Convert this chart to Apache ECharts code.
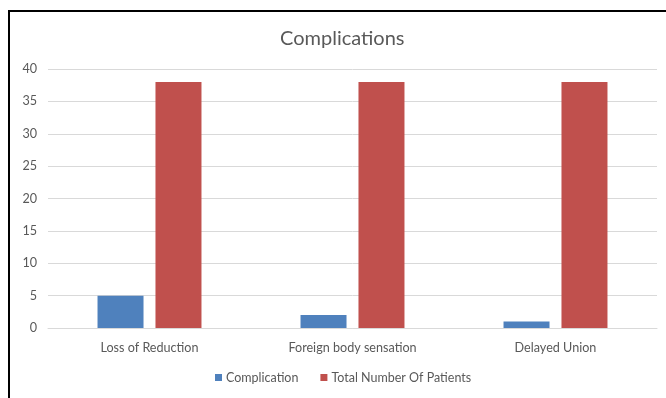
<!DOCTYPE html>
<html>
<head>
<meta charset="utf-8">
<script src="https://cdn.jsdelivr.net/npm/echarts@6/dist/echarts.min.js"></script>
<style>
  html, body { margin: 0; padding: 0; background: #fff; }
  #frame { position: absolute; left: 8px; top: 10px; width: 658px; height: 388px;
           border-left: 2px solid #000; border-top: 2px solid #000; box-sizing: border-box; }
  #chart { position: absolute; left: 0; top: 0; width: 666px; height: 398px; }
</style>
</head>
<body>
<div id="frame"></div>
<div id="chart"></div>
<script>
// Complications by type, against the total number of patients
const categories = ['Loss of Reduction', 'Foreign body sensation', 'Delayed Union'];
const complication = [5, 2, 1];
const totalPatients = [38, 38, 38];
const seriesNames = ['Complication', 'Total Number Of Patients'];

const textColor = '#595959';
const font = 'Lato, "Open Sans", sans-serif';

const chart = echarts.init(document.getElementById('chart'), null, { renderer: 'canvas' });
chart.setOption({
  backgroundColor: 'transparent',
  animation: false,
  title: {
    text: 'Complications',
    left: 280,
    top: 29,
    padding: 0,
    textStyle: { fontFamily: font, fontSize: 20, fontWeight: 'normal', color: textColor }
  },
  legend: {
    bottom: 14,
    left: 215,
    padding: 0,
    itemWidth: 7,
    itemHeight: 7,
    itemGap: 22,
    icon: 'rect',
    textStyle: { fontFamily: font, fontSize: 12.5, color: textColor, padding: [0, 0, 0, -1] },
    data: seriesNames
  },
  grid: { left: 48, right: 9, top: 69, bottom: 70, containLabel: false },
  xAxis: {
    type: 'category',
    data: categories,
    axisLine: { show: true, lineStyle: { color: '#d9d9d9', width: 1 } },
    axisTick: { show: false },
    axisLabel: { fontFamily: font, fontSize: 12.6, color: textColor, margin: 13 }
  },
  yAxis: {
    type: 'value',
    min: 0,
    max: 40,
    interval: 5,
    axisLine: { show: false },
    axisTick: { show: false },
    axisLabel: { fontFamily: font, fontSize: 12.6, color: textColor, margin: 11 },
    splitLine: { lineStyle: { color: '#d9d9d9', width: 1 } }
  },
  series: [
    {
      name: seriesNames[0],
      type: 'bar',
      data: complication,
      barWidth: 46,
      barGap: '26%',
      itemStyle: { color: '#4f81bd' }
    },
    {
      name: seriesNames[1],
      type: 'bar',
      data: totalPatients,
      barWidth: 46,
      itemStyle: { color: '#c0504d' }
    }
  ]
});
</script>
</body>
</html>
